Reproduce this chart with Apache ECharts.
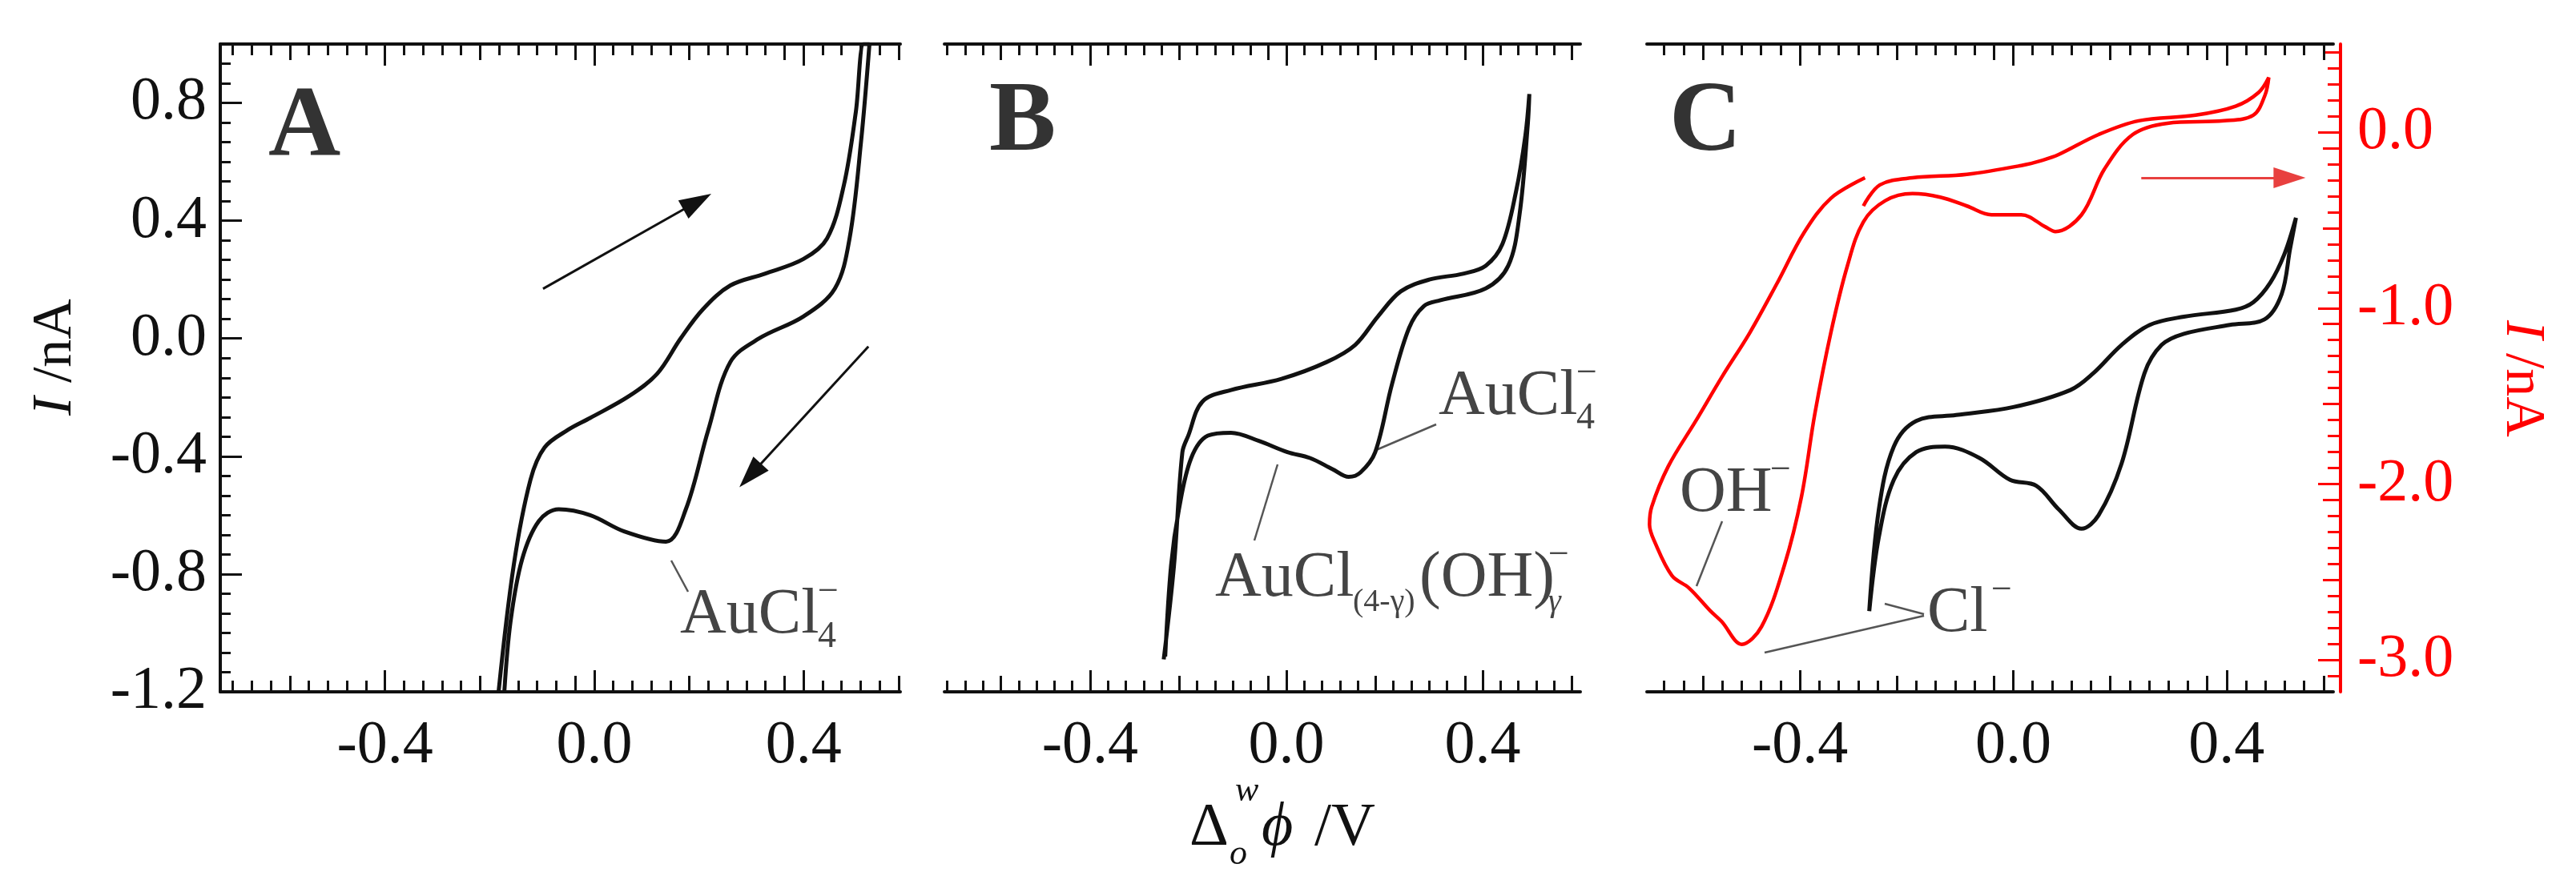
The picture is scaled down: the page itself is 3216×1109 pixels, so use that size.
<!DOCTYPE html>
<html>
<head>
<meta charset="utf-8">
<script src="https://cdn.jsdelivr.net/npm/echarts@6/dist/echarts.min.js"></script>
<style>html,body{margin:0;padding:0;background:#fff}#main{width:3216px;height:1109px}</style>
</head>
<body>
<div id="main"></div>
<script>
// panel A  (potential / V , current / nA)
var aV=[-0.183,-0.154,-0.122,-0.095,-0.05,-0.008,0.067,0.12,0.165,0.208,0.26,0.326,0.40,0.445,0.477,0.50,0.515,
        0.526,0.51,0.488,0.46,0.40,0.315,0.26,0.218,0.175,0.137,0.057,-0.008,-0.068,-0.106,-0.138,-0.16,-0.172]
var aI=[-1.2,-0.77,-0.48,-0.37,-0.31,-0.27,-0.195,-0.12,0.0,0.10,0.18,0.22,0.27,0.34,0.52,0.77,1.0,
        1.0,0.67,0.34,0.17,0.075,0.0,-0.08,-0.31,-0.58,-0.69,-0.655,-0.60,-0.58,-0.62,-0.75,-0.96,-1.2]
// panel B
var bV=[-0.25,-0.229,-0.212,-0.20,-0.171,-0.113,-0.01,0.082,0.14,0.186,0.233,0.291,0.36,0.406,0.44,0.468,0.487,0.495,
        0.492,0.475,0.452,0.406,0.314,0.28,0.25,0.215,0.181,0.151,0.127,0.094,0.048,0.002,-0.056,-0.113,-0.16,-0.194,-0.219,-0.235,-0.247]
var bI=[-1.09,-0.77,-0.386,-0.33,-0.214,-0.175,-0.137,-0.08,-0.022,0.074,0.16,0.20,0.22,0.247,0.32,0.50,0.69,0.83,
        0.73,0.42,0.247,0.17,0.13,0.11,0.036,-0.156,-0.386,-0.455,-0.47,-0.444,-0.406,-0.386,-0.348,-0.32,-0.33,-0.406,-0.58,-0.77,-1.08]
// panel C, black (left scale)
var cV=[-0.27,-0.252,-0.224,-0.182,-0.107,0.0,0.107,0.15,0.203,0.256,0.32,0.417,0.45,0.482,0.508,0.53,
        0.519,0.503,0.471,0.406,0.32,0.278,0.246,0.203,0.16,0.128,0.085,0.043,-0.006,-0.064,-0.128,-0.182,-0.224,-0.252,-0.27]
var cI=[-0.926,-0.58,-0.367,-0.28,-0.26,-0.233,-0.175,-0.118,-0.022,0.046,0.074,0.098,0.123,0.19,0.285,0.41,
        0.305,0.15,0.065,0.046,0.016,-0.022,-0.118,-0.425,-0.60,-0.646,-0.58,-0.50,-0.48,-0.405,-0.367,-0.386,-0.48,-0.674,-0.926]
// panel C, red (right scale)
var rV=[-0.278,-0.342,-0.392,-0.443,-0.494,-0.545,-0.595,-0.647,-0.678,-0.682,-0.672,-0.64,-0.608,-0.568,-0.547,-0.509,-0.472,-0.429,-0.397,
        -0.372,-0.342,-0.311,-0.281,-0.24,-0.189,-0.137,-0.087,-0.041,0.015,0.061,0.079,0.128,0.171,0.224,0.289,0.395,0.45,0.472,0.479,
        0.46,0.417,0.342,0.235,0.16,0.085,0.055,0.015,-0.087,-0.189,-0.25,-0.281]
var rI=[-0.26,-0.376,-0.57,-0.86,-1.14,-1.385,-1.64,-1.90,-2.13,-2.23,-2.33,-2.52,-2.59,-2.72,-2.78,-2.91,-2.81,-2.46,-2.07,
        -1.60,-1.14,-0.76,-0.51,-0.39,-0.35,-0.37,-0.42,-0.47,-0.47,-0.54,-0.565,-0.47,-0.21,-0.014,0.05,0.064,0.096,0.21,0.31,
        0.225,0.147,0.096,0.064,-0.014,-0.128,-0.16,-0.19,-0.24,-0.26,-0.30,-0.42]

var xLabels=[-0.4,0.0,0.4]
var yLabels=[-1.2,-0.8,-0.4,0.0,0.4,0.8]
var redLabels=[-3.0,-2.0,-1.0,0.0]

var xRanges=[[-0.715,0.585],[-0.697,0.599],[-0.687,0.6]]
var yRange=[-1.2,1.0]
var redRange=[-3.18,0.5]

var SERIF='Liberation Serif'
var INK='#111'
var RED='#ff0000'

function zip(a,b){return a.map(function(v,i){return [v,b[i]]})}

// minor / medium ticks: n steps per major interval, counted up from every major
function subTicks(majors,step,n,lo,hi,medEvery){
  var minor=[],medium=[]
  function put(v,k){
    if(v<lo-1e-9||v>hi+1e-9)return
    if(medEvery&&k%medEvery===0)medium.push(v);else minor.push(v)
  }
  majors.forEach(function(M){for(var k=1;k<n;k++)put(M+k*step/n,k)})
  for(var k=1;k<n;k++)put(majors[0]-k*step/n,k)
  return {minor:minor,medium:medium}
}

var xAxes=[],yAxes=[],grids=[]
var gridPos=[[275,1124],[1179,1973],[2056,2913]]
gridPos.forEach(function(g,i){
  grids.push({left:g[0],width:g[1]-g[0],top:55,height:809})
  var r=xRanges[i]
  var t=subTicks(xLabels,0.4,11,r[0],r[1],5)
  ;['bottom','top'].forEach(function(pos){
    var sets=[[xLabels,27,pos==='bottom'],[t.medium,20,false],[t.minor,14,false]]
    sets.forEach(function(s,j){
      xAxes.push({type:'value',gridIndex:i,position:pos,min:r[0],max:r[1],
        axisLine:{show:j===0,onZero:false,lineStyle:{color:INK,width:4}},
        axisTick:{show:true,inside:true,length:s[1],customValues:s[0],lineStyle:{color:INK,width:3}},
        axisLabel:{show:s[2],customValues:xLabels,margin:30,fontFamily:SERIF,fontSize:76,color:INK,
          formatter:function(v){return v.toFixed(1)}},
        splitLine:{show:false}})
    })
  })
})
// y axes
var yt=subTicks(yLabels,0.4,6,yRange[0],yRange[1],0)
yAxes.push({type:'value',gridIndex:0,position:'left',min:yRange[0],max:yRange[1],
  axisLine:{show:true,onZero:false,lineStyle:{color:INK,width:4}},
  axisTick:{inside:true,length:27,customValues:yLabels,lineStyle:{color:INK,width:3}},
  axisLabel:{customValues:yLabels,margin:17,fontFamily:SERIF,fontSize:76,color:INK,formatter:function(v){return v.toFixed(1)}},
  splitLine:{show:false}})
yAxes.push({type:'value',gridIndex:0,position:'left',min:yRange[0],max:yRange[1],
  axisLine:{show:false,onZero:false},axisTick:{inside:true,length:13,customValues:yt.minor,lineStyle:{color:INK,width:3}},
  axisLabel:{show:false},splitLine:{show:false}})
yAxes.push({type:'value',gridIndex:1,min:yRange[0],max:yRange[1],show:false})
yAxes.push({type:'value',gridIndex:2,min:yRange[0],max:yRange[1],show:false})
var rt=subTicks(redLabels,1,11,redRange[0],redRange[1],5)
;[[redLabels,28,true],[rt.medium,22,false],[rt.minor,16,false]].forEach(function(s,j){
  yAxes.push({type:'value',gridIndex:2,position:'right',offset:9,min:redRange[0],max:redRange[1],
    axisLine:{show:j===0,onZero:false,lineStyle:{color:RED,width:4}},
    axisTick:{inside:true,length:s[1],customValues:s[0],lineStyle:{color:RED,width:3}},
    axisLabel:{show:s[2],customValues:redLabels,margin:21,fontFamily:SERIF,fontSize:76,color:RED,formatter:function(v){return v.toFixed(1)}},
    splitLine:{show:false}})
})
var RED_Y=yAxes.length-3

var lineCommon={type:'line',showSymbol:false,smooth:0.35,clip:true,animation:false}
var arrowStyle={silent:true,animation:false,symbol:['none','triangle'],symbolSize:[26,40],label:{show:false}}
var series=[
  Object.assign({},lineCommon,{xAxisIndex:0,yAxisIndex:0,data:zip(aV,aI),lineStyle:{color:INK,width:5}, 
    markLine:Object.assign({lineStyle:{color:INK,width:3,type:'solid'},
      data:[[{coord:[-0.098,0.169]},{coord:[0.197,0.465]}],[{coord:[0.524,-0.027]},{coord:[0.298,-0.465]}]]},arrowStyle)}),
  Object.assign({},lineCommon,{xAxisIndex:6,yAxisIndex:2,data:zip(bV,bI),lineStyle:{color:INK,width:5}}),
  Object.assign({},lineCommon,{xAxisIndex:12,yAxisIndex:3,data:zip(cV,cI),lineStyle:{color:INK,width:5}}),
  Object.assign({},lineCommon,{xAxisIndex:12,yAxisIndex:RED_Y,data:zip(rV,rI),lineStyle:{color:RED,width:4.5}, 
    markLine:Object.assign({lineStyle:{color:'#e8403f',width:3,type:'solid'},
      data:[[{coord:[0.24,-0.26]},{coord:[0.518,-0.26]}]]},arrowStyle)})
]

// text placed by baseline
function txt(x,base,s,size,opt){
  opt=opt||{}
  return {type:'text',x:x,y:base-0.34*size,style:{text:s,fontFamily:SERIF,fontSize:size,
    fontWeight:opt.bold?'bold':'normal',fontStyle:opt.italic?'italic':'normal',fill:opt.color||'#444',
    align:'left',verticalAlign:'middle'}}
}
function seg(x1,y1,x2,y2,c){return {type:'line',shape:{x1:x1,y1:y1,x2:x2,y2:y2},style:{stroke:c||'#555',lineWidth:2.5}}}
function vtitle(x,y,rot,color){
  return {type:'text',x:x,y:y,rotation:rot,style:{text:'{i|I} /nA',fontFamily:SERIF,fontSize:70,fill:color,
    align:'center',verticalAlign:'middle',rich:{i:{fontStyle:'italic',fontFamily:SERIF,fontSize:70,fill:color}}}}
}

var graphic=[
  txt(335,203,'A',125,{bold:true,color:'#333'}),
  txt(1235,197,'B',125,{bold:true,color:'#333'}),
  txt(2084,197,'C',125,{bold:true,color:'#333'}),
  // A label
  seg(838,700,859,739),
  txt(849,796,'AuCl',80),txt(1021,812,'4',46),txt(1021,756,'−',46),
  // B labels
  seg(1718,562,1793,530),
  txt(1796,523,'AuCl',80),txt(1968,539,'4',46),txt(1968,483,'−',46),
  seg(1595,580,1566,675),
  txt(1517,750,'AuCl',80),txt(1689,766,'(4-γ)',40),txt(1772,750,'(OH)',80),txt(1933,766,'γ',40,{italic:true}),txt(1933,710,'−',46),
  // C labels
  seg(2150,651,2118,732),
  txt(2097,644,'OH',80),txt(2210,604,'−',46),
  seg(2402,767,2353,754),seg(2402,769,2203,815),
  txt(2406,794,'Cl',80),txt(2486,754,'−',46),
  // axis titles
  vtitle(70,446,Math.PI/2,INK),
  vtitle(3148,473,-Math.PI/2,RED),
  txt(1485,1061,'Δ',76,{color:INK}),txt(1535,1082,'o',44,{italic:true,color:INK}),txt(1542,1003,'w',44,{italic:true,color:INK}),
  txt(1575,1061,'ϕ',76,{italic:true,color:INK}),txt(1622,1061,' /V',76,{color:INK})
]

var chart=echarts.init(document.getElementById('main'))
chart.setOption({animation:false,backgroundColor:'#fff',grid:grids,xAxis:xAxes,yAxis:yAxes,series:series,graphic:graphic})
</script>
</body>
</html>
